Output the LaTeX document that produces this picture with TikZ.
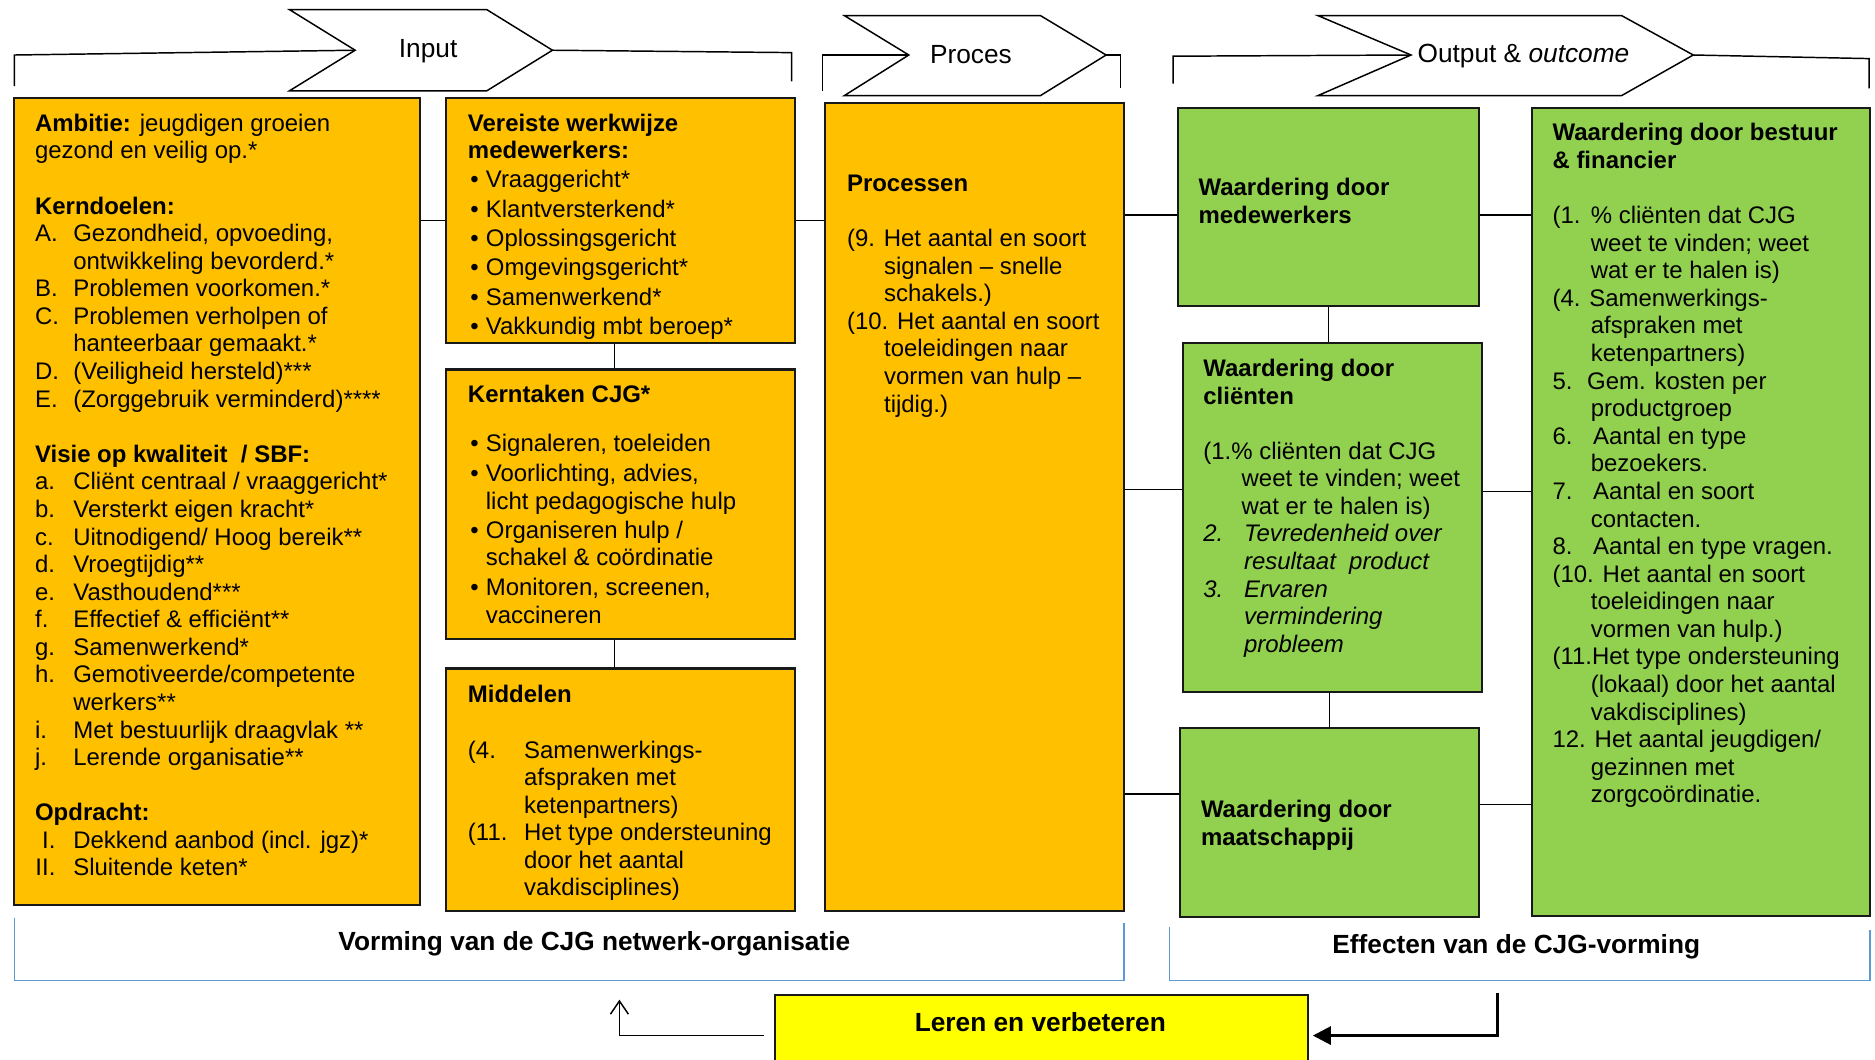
\documentclass[tikz,border=0pt]{standalone}
\usepackage{fontspec}
\setmainfont{Liberation Sans}
\usetikzlibrary{arrows.meta,positioning,calc,fit}

\definecolor{cjgorange}{HTML}{FFC000}
\definecolor{cjggreen}{HTML}{92D050}
\definecolor{cjgyellow}{HTML}{FFFF00}
\definecolor{cjgblue}{HTML}{5B9BD5}

\newlength{\pxu}\setlength{\pxu}{0.02cm}
\newcommand{\bodyfont}{\fontsize{11.4}{13.13}\selectfont}
\newcommand{\hdrfont}{\fontsize{12.5}{14}\selectfont}
\newcommand{\itm}[2][32]{\makebox[#1\pxu][l]{#2}}
\newcommand{\hind}[1][32]{\hspace*{#1\pxu}}
\newcommand{\bul}{\makebox[15\pxu][l]{\hspace*{2\pxu}•}}

\tikzset{
  obox/.style={draw=black!90,line width=1pt,fill=cjgorange,inner sep=0pt},
  gbox/.style={obox,fill=cjggreen},
  ybox/.style={obox,fill=cjgyellow},
  txt/.style={anchor=north west,inner sep=0pt,align=left,font=\bodyfont},
  hdr/.style={inner sep=0pt,font=\hdrfont},
  foot/.style={inner sep=0pt,font=\hdrfont\bfseries},
  chev/.style={draw,line width=0.7pt,fill=white,line join=miter},
  conn/.style={draw,line width=0.7pt},
  brk/.style={draw=cjgblue,line width=0.8pt},
  fbarr/.style={-{Straight Barb[length=0.22cm,width=0.3cm]},line width=0.7pt},
  inarr/.style={-{Triangle[length=0.3cm,width=0.3cm]},line width=1.4pt}
}

\begin{document}
\begin{tikzpicture}[x=0.02cm,y=-0.02cm]
  \useasboundingbox (0,0) rectangle (1568,886);

  % kopjes met pijlvormen
  \draw[chev] (242,8) -- (407,8) -- (462,42) -- (407,76) -- (242,76) -- (297,42) -- cycle;
  \draw[chev] (706,13) -- (870,13) -- (925,46) -- (870,80) -- (706,80) -- (760,46) -- cycle;
  \draw[chev] (1102,13) -- (1356,13) -- (1416,46) -- (1356,80) -- (1102,80) -- (1180,46) -- cycle;
  \node[hdr] (input) at (358,43) {Input};
  \node[hdr] (proces) at (812,46) {Proces};
  \node[hdr] (output) at (1274,47) {Output \& \textit{outcome}};

  \draw[conn] (12,72) -- (12,46) -- (297,42);
  \draw[conn] (462,42) -- (662,44) -- (662,68);
  \draw[conn] (688,76) -- (688,46) -- (760,46);
  \draw[conn] (925,46) -- (937,46) -- (937,74);
  \draw[conn] (981,70) -- (981,47) -- (1180,46);
  \draw[conn] (1416,46) -- (1563,49) -- (1563,74);

  % input en proces
  \node[obox,fit={(12,82)(351,757)}] (ambitie) {};
  \node[obox,fit={(373,82)(665,287)}] (werkwijze) {};
  \node[obox,fit={(373,309)(665,534)}] (kerntaken) {};
  \node[obox,fit={(373,559)(665,762)}] (middelen) {};
  \node[obox,fit={(690,86)(940,762)}] (processen) {};

  % output en outcome
  \node[gbox,fit={(985,90)(1237,256)}] (wmedew) {};
  \node[gbox,fit={(989,287)(1239,579)}] (wclient) {};
  \node[gbox,fit={(987,609)(1237,767)}] (wmaatsch) {};
  \node[gbox,fit={(1281,90)(1564,766)}] (wbestuur) {};

  \node[ybox,fit={(648,832)(1094,900)}] (leren) {};

  \draw[conn] (werkwijze.west -| ambitie.east) -- (werkwijze.west);
  \draw[conn] (werkwijze.east) -- (werkwijze.east -| processen.west);
  \draw[conn] ([xshift=-0.1cm]werkwijze.south) -- ([xshift=-0.1cm]kerntaken.north);
  \draw[conn] ([xshift=-0.1cm]kerntaken.south) -- ([xshift=-0.1cm]middelen.north);

  \coordinate (m1) at ($(wmedew.north west)!0.54!(wmedew.south west)$);
  \coordinate (c1) at ($(wclient.north west)!0.42!(wclient.south west)$);
  \coordinate (s1) at ($(wmaatsch.north west)!0.35!(wmaatsch.south west)$);
  \coordinate (c2) at ($(wclient.north east)!0.425!(wclient.south east)$);
  \coordinate (s2) at ($(wmaatsch.north east)!0.405!(wmaatsch.south east)$);
  \draw[conn] (processen.east |- m1) -- (m1);
  \draw[conn] (processen.east |- c1) -- (c1);
  \draw[conn] (processen.east |- s1) -- (s1);
  \draw[conn] (wmedew.east |- m1) -- (wbestuur.west |- m1);
  \draw[conn] (c2) -- (wbestuur.west |- c2);
  \draw[conn] (s2) -- (wbestuur.west |- s2);
  \draw[conn] (wmedew.south) -- (wmedew.south |- wclient.north);
  \draw[conn] (wmaatsch.north) -- (wmaatsch.north |- wclient.south);

  \node[txt] (ambitieTxt) at (29,95) {\textbf{Ambitie:} jeugdigen groeien\\
    gezond en veilig op.*\\[23\pxu]
    \textbf{Kerndoelen:}\\
    \itm{A.}Gezondheid, opvoeding,\\
    \hind ontwikkeling bevorderd.*\\
    \itm{B.}Problemen voorkomen.*\\
    \itm{C.}Problemen verholpen of\\
    \hind hanteerbaar gemaakt.*\\
    \itm{D.}(Veiligheid hersteld)***\\
    \itm{E.}(Zorggebruik verminderd)****\\[23\pxu]
    \textbf{Visie op kwaliteit~ / SBF:}\\
    \itm{a.}Cliënt centraal / vraaggericht*\\
    \itm{b.}Versterkt eigen kracht*\\
    \itm{c.}Uitnodigend/ Hoog bereik**\\
    \itm{d.}Vroegtijdig**\\
    \itm{e.}Vasthoudend***\\
    \itm{f.}Effectief \& efficiënt**\\
    \itm{g.}Samenwerkend*\\
    \itm{h.}Gemotiveerde/competente\\
    \hind werkers**\\
    \itm{i.}Met bestuurlijk draagvlak **\\
    \itm{j.}Lerende organisatie**\\[23\pxu]
    \textbf{Opdracht:}\\
    \itm{\makebox[17\pxu][r]{I.}}Dekkend aanbod (incl. jgz)*\\
    \itm{\makebox[17\pxu][r]{II.}}Sluitende keten*};

  \node[txt] (werkwijzeTxt) at (391,95) {\textbf{Vereiste werkwijze}\\
    \textbf{medewerkers:}\\[1\pxu]
    \bul Vraaggericht*\\[1.5\pxu]
    \bul Klantversterkend*\\[1.5\pxu]
    \bul Oplossingsgericht\\[1.5\pxu]
    \bul Omgevingsgericht*\\[1.5\pxu]
    \bul Samenwerkend*\\[1.5\pxu]
    \bul Vakkundig mbt beroep*};

  \node[txt] (kerntakenTxt) at (391,322) {\textbf{Kerntaken CJG*}\\[18\pxu]
    \bul Signaleren, toeleiden\\[2\pxu]
    \bul Voorlichting, advies,\\
    \hind[15]licht pedagogische hulp\\[1\pxu]
    \bul Organiseren hulp /\\
    \hind[15]schakel \& coördinatie\\[2\pxu]
    \bul Monitoren, screenen,\\
    \hind[15]vaccineren};

  \node[txt] (middelenTxt) at (391,573) {\textbf{Middelen}\\[23\pxu]
    \itm[47]{(4.}Samenwerkings-\\
    \hind[47]afspraken met\\
    \hind[47]ketenpartners)\\
    \itm[47]{(11.}Het type ondersteuning\\
    \hind[47]door het aantal\\
    \hind[47]vakdisciplines)};

  \node[txt] (processenTxt) at (708,146) {\textbf{Processen}\\[23\pxu]
    (9. Het aantal en soort\\
    \hind[31]signalen – snelle\\
    \hind[31]schakels.)\\
    (10. Het aantal en soort\\
    \hind[31]toeleidingen naar\\
    \hind[31]vormen van hulp –\\
    \hind[31]tijdig.)};

  \node[txt] (wmedewTxt) at (1002,149) {\textbf{Waardering door}\\
    \textbf{medewerkers}};

  \node[txt] (wclientTxt) at (1006,300) {\textbf{Waardering door}\\
    \textbf{cliënten}\\[23\pxu]
    (1.\% cliënten dat CJG\\
    \hind weet te vinden; weet\\
    \hind wat er te halen is)\\
    \textit{\itm[34]{2.}Tevredenheid over}\\
    \textit{\hind[34]resultaat~ product}\\
    \textit{\itm[34]{3.}Ervaren}\\
    \textit{\hind[34]vermindering}\\
    \textit{\hind[34]probleem}};

  \node[txt] (wmaatschTxt) at (1004,669) {\textbf{Waardering door}\\
    \textbf{maatschappij}};

  \node[txt] (wbestuurTxt) at (1298,103) {\textbf{Waardering door bestuur}\\
    \textbf{\& financier}\\[23\pxu]
    \itm{(1.}\% cliënten dat CJG\\
    \hind weet te vinden; weet\\
    \hind wat er te halen is)\\
    (4. Samenwerkings-\\
    \hind afspraken met\\
    \hind ketenpartners)\\
    \itm[29]{5.}Gem. kosten per\\
    \hind productgroep\\
    \itm[34]{6.}Aantal en type\\
    \hind bezoekers.\\
    \itm[34]{7.}Aantal en soort\\
    \hind contacten.\\
    \itm[34]{8.}Aantal en type vragen.\\
    (10. Het aantal en soort\\
    \hind toeleidingen naar\\
    \hind vormen van hulp.)\\
    (11.Het type ondersteuning\\
    \hind (lokaal) door het aantal\\
    \hind vakdisciplines)\\
    12. Het aantal jeugdigen/\\
    \hind gezinnen met\\
    \hind zorgcoördinatie.};

  % onderste haken
  \draw[brk] (12,768) -- (12,820) -- (940,820) -- (940,772);
  \draw[brk] (978,775) -- (978,820) -- (1564,820) -- (1564,778);
  \node[foot] (vorming) at (497,789) {Vorming van de CJG netwerk-organisatie};
  \node[foot] (effecten) at (1268,792) {Effecten van de CJG-vorming};

  \node[foot] (lerenTxt) at (870,855) {Leren en verbeteren};

  \coordinate (terug) at (518,836);
  \coordinate (effbr) at (1252,830);
  \draw[fbarr] ([xshift=-0.16cm]leren.west) -| (terug);
  \draw[inarr] (effbr) |- ([xshift=0.06cm]leren.east);
\end{tikzpicture}
\end{document}
